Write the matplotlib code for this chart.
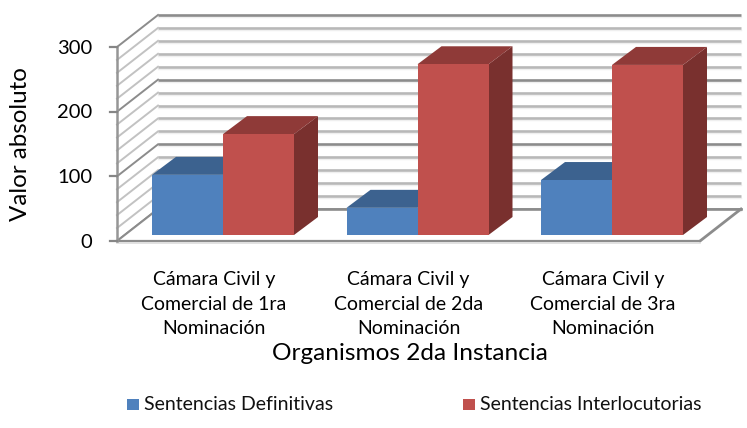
import matplotlib
matplotlib.use('Agg')
import matplotlib.pyplot as plt
from matplotlib.patches import Polygon, Rectangle

plt.rcParams['font.family'] = ['Lato', 'DejaVu Sans']

categorias = ['Cámara Civil y\nComercial de 1ra\nNominación',
              'Cámara Civil y\nComercial de 2da\nNominación',
              'Cámara Civil y\nComercial de 3ra\nNominación']
definitivas = [93, 42, 85]
interlocutorias = [156, 264, 263]
ticks_y = [0, 100, 200, 300]
grid_y = list(range(0, 301, 20))

# geometria en pixeles del grafico 3D
X0, X1 = 117, 700
Y0 = 241
ESCALA = 194 / 300
DX, DY = 41, -32       # profundidad de las paredes
BASE_BARRA = 235
BDX, BDY = 24, -18     # profundidad de las barras
CENTRO0, PASO = 223, 194.5
ANCHO = 71


def py(v):
    return Y0 - v * ESCALA


fig = plt.figure(figsize=(7.47, 4.28), dpi=100)
ax = fig.add_axes([0, 0, 1, 1])
ax.set_xlim(0, 747)
ax.set_ylim(428, 0)
ax.axis('off')

# rejilla: pared del fondo y pared lateral
for v in grid_y:
    mayor = v % 100 == 0
    col = '#8c8c8c' if mayor else '#b8b8b8'
    y = py(v)
    ax.plot([X0 + DX, X1 + DX], [y + DY, y + DY], color=col, lw=1.9, solid_capstyle='butt', zorder=2)
    ax.plot([X0 + DX, X1 + DX], [y + DY + 2, y + DY + 2], color='#efefef', lw=1, zorder=1)
    ax.plot([X0, X0 + DX], [y, y + DY], color='#8c8c8c' if mayor else '#c2c2c2',
            lw=1.4, zorder=2)

# piso
ax.add_patch(Polygon([(X0, Y0), (X1, Y0), (X1 + DX, Y0 + DY), (X0 + DX, Y0 + DY)],
                     fc='white', ec='none', zorder=3))
ax.plot([X0 + DX, X1 + DX], [py(0) + DY] * 2, color='#8c8c8c', lw=1.9, zorder=3)
ax.plot([X0, X0 + DX], [Y0, Y0 + DY], color='#8c8c8c', lw=1.5, zorder=3)
ax.plot([X1, X1 + DX], [Y0, Y0 + DY], color='#8c8c8c', lw=2, zorder=3)
ax.plot([X0, X1], [Y0, Y0], color='#8c8c8c', lw=1.6, zorder=3)
ax.plot([X0, X1], [Y0 + 1.8, Y0 + 1.8], color='#dddddd', lw=1.2, zorder=3)

# eje y
ax.plot([X0, X0], [py(0), py(300)], color='#969696', lw=1.8, zorder=4)
for v in ticks_y:
    ax.plot([X0 - 7, X0], [py(v), py(v)], color='#868686', lw=1.6, zorder=4)
    ax.text(X0 - 25, py(v) + 1, str(v), ha='right', va='center', fontsize=14.5, color='black')


def barra(x, v, frente, techo, lado, z):
    top = BASE_BARRA - v * ESCALA
    ax.add_patch(Polygon([(x + ANCHO, BASE_BARRA), (x + ANCHO + BDX, BASE_BARRA + BDY),
                          (x + ANCHO + BDX, top + BDY), (x + ANCHO, top)],
                         fc=lado, ec='none', zorder=z))
    ax.add_patch(Polygon([(x, top), (x + BDX, top + BDY), (x + ANCHO + BDX, top + BDY), (x + ANCHO, top)],
                         fc=techo, ec='none', zorder=z))
    ax.add_patch(Rectangle((x, top), ANCHO, v * ESCALA, fc=frente, ec='none', zorder=z + 0.1))


for i in range(len(categorias)):
    c = CENTRO0 + i * PASO
    barra(c - ANCHO, definitivas[i], '#4f81bd', '#3c628f', '#2f4f75', 5 + i)
    barra(c, interlocutorias[i], '#c0504d', '#8f3a38', '#79302e', 5.5 + i)
    ax.text(c - 9, 304, categorias[i], ha='center', va='center', fontsize=14,
            color='black', linespacing=1.5)

ax.text(21, 144, 'Valor absoluto', rotation=90, ha='center', va='center', fontsize=17.4, color='black')
ax.text(410, 354, 'Organismos 2da Instancia', ha='center', va='center', fontsize=17.6, color='black')

# leyenda
ax.add_patch(Rectangle((127, 399), 12, 11, fc='#4f81bd', ec='none'))
ax.text(144, 404, 'Sentencias Definitivas', ha='left', va='center', fontsize=14, color='#111111')
ax.add_patch(Rectangle((463, 399), 12, 11, fc='#c0504d', ec='none'))
ax.text(480, 404, 'Sentencias Interlocutorias', ha='left', va='center', fontsize=14, color='#111111')

fig.savefig('out.png', dpi=100)
